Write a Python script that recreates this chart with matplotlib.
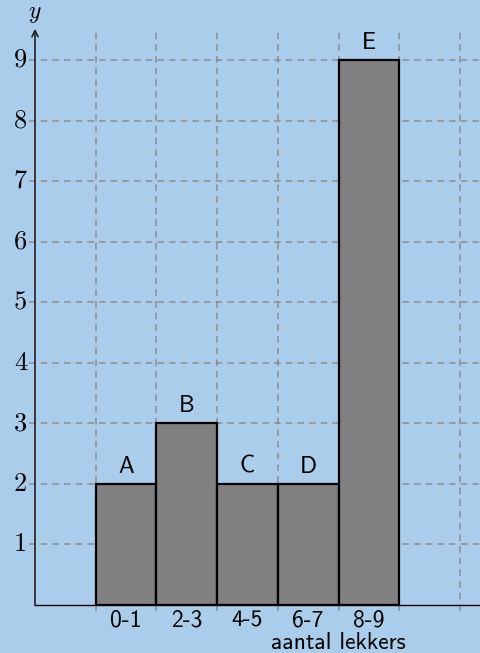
"""Histogram of candy counts (aantal lekkers) with lettered bars."""

import matplotlib

matplotlib.use("Agg")
import matplotlib.pyplot as plt

BG = "#abcdec"
GRID = "#808080"

ranges = ["0-1", "2-3", "4-5", "6-7", "8-9"]
counts = [2, 3, 2, 2, 9]
letters = ["A", "B", "C", "D", "E"]
y_ticks = [1, 2, 3, 4, 5, 6, 7, 8, 9]

plt.rcParams["mathtext.fontset"] = "cm"
SANS = "cmss10"
FS = 17

fig = plt.figure(figsize=(4.81, 6.53), dpi=100, facecolor=BG)
ax = fig.add_axes([35 / 481, 48 / 653, 446 / 481, 575 / 653])
ax.set_facecolor(BG)

x_max = 446 / 60.7
y_max = 575 / 60.56
ax.set_xlim(0, x_max)
ax.set_ylim(0, y_max)
for s in ax.spines.values():
    s.set_visible(False)
ax.set_xticks([])
ax.set_yticks([])

# dashed grid, running a little past the axes
dash = (0, (4, 3))
for gx in range(1, 8):
    ax.plot([gx, gx], [-0.1, y_max], color=GRID, alpha=0.75, lw=1.2,
            ls=dash, clip_on=False, zorder=1)
for gy in y_ticks:
    ax.plot([-0.1, x_max], [gy, gy], color=GRID, alpha=0.75, lw=1.2,
            ls=dash, clip_on=False, zorder=1)
    ax.text(-0.13, gy, str(gy), family="cmr10", fontsize=19,
            ha="right", va="center")

# bars
lefts = [i + 1 for i in range(len(counts))]
ax.bar(lefts, counts, width=1, align="edge", color="#808080",
       edgecolor="black", linewidth=1.6, zorder=3)
for x0, c, lab, rng in zip(lefts, counts, letters, ranges):
    ax.text(x0 + 0.5, c + 0.1, lab, family=SANS, fontsize=FS,
            ha="center", va="bottom", zorder=4)
    ax.text(x0 + 0.5, -0.26, rng, family=SANS, fontsize=FS,
            ha="center", va="center")

ax.text(5, -0.62, "aantal lekkers", family=SANS, fontsize=FS,
        ha="center", va="center")

# axes
ax.plot([0, x_max], [0, 0], color="black", lw=1, clip_on=False, zorder=5)
ax.annotate("", xy=(0, y_max + 0.02), xytext=(0, 0),
            arrowprops=dict(arrowstyle="->", color="#222222", lw=1.2,
                            mutation_scale=11, shrinkA=0, shrinkB=0),
            annotation_clip=False, zorder=5)
ax.text(0, 592 / 60.56, r"$y$", fontsize=17, ha="center", va="center")

fig.savefig("out.png", dpi=100, facecolor=BG)
